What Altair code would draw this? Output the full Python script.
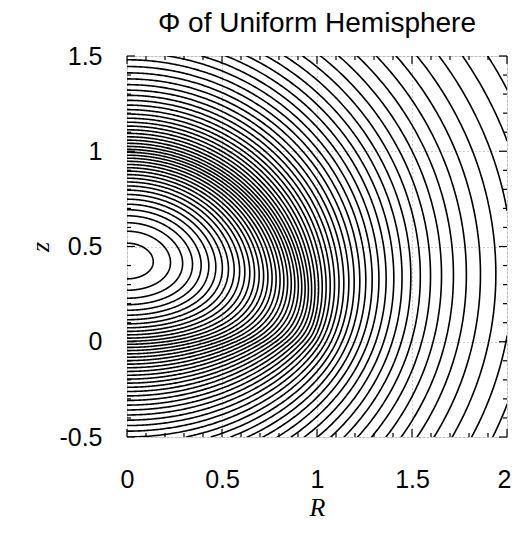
import numpy as np
import pandas as pd
import altair as alt

# ---------------- chart values ----------------
TITLE = "Φ of Uniform Hemisphere"
X_TITLE = "R"
Y_TITLE = "z"
X_DOMAIN = [0, 2]
Y_DOMAIN = [-0.5, 1.5]
X_LABELS = [0, 0.5, 1, 1.5, 2]
Y_LABELS = [-0.5, 0, 0.5, 1, 1.5]
X_MINOR = [0.1, 0.2, 0.3, 0.4, 0.6, 0.7, 0.8, 0.9, 1.1, 1.2, 1.3, 1.4,
           1.6, 1.7, 1.8, 1.9]
Y_MINOR = [-0.4, -0.3, -0.2, -0.1, 0.1, 0.2, 0.3, 0.4, 0.6, 0.7, 0.8, 0.9,
           1.1, 1.2, 1.3, 1.4]
# hemisphere of unit radius, flat face on z = 0, dome up to z = 1
HEMISPHERE_RADIUS = 1.0
# contour levels of -Phi / (G rho a^2)
LEVELS = [3.75, 3.70, 3.65, 3.60, 3.55, 3.50, 3.45, 3.40, 3.35, 3.30,
          3.25, 3.20, 3.15, 3.10, 3.05, 3.00, 2.95, 2.90, 2.85, 2.80,
          2.75, 2.70, 2.65, 2.60, 2.55, 2.50, 2.45, 2.40, 2.35, 2.30,
          2.25, 2.20, 2.15, 2.10, 2.05, 2.00, 1.95, 1.90, 1.85, 1.80,
          1.75, 1.70, 1.65, 1.60, 1.55, 1.50, 1.45, 1.40, 1.35, 1.30,
          1.25, 1.20, 1.15, 1.10, 1.05, 1.00, 0.95, 0.90]


# ---------------- potential of a uniform hemisphere ----------------
def hemisphere_potential(R, Z, a=HEMISPHERE_RADIUS, lmax=140):
    """-Phi/(G rho a^2) via Legendre expansion (interior + exterior)."""
    R = np.asarray(R, float) / a
    Z = np.asarray(Z, float) / a
    r = np.hypot(R, Z)
    mu = np.where(r > 0, Z / np.where(r > 0, r, 1.0), 1.0)
    inside = r < 1.0
    rin = np.minimum(r, 1.0)
    rout = np.maximum(r, 1.0)
    p0 = np.zeros(lmax + 3)
    p0[0] = 1.0
    for n in range(1, lmax + 2):
        p0[n + 1] = -n / (n + 1) * p0[n - 1]
    f = np.where(inside, 0.5 - rin ** 2 / 6.0, 1.0 / (3.0 * rout))
    Pprev = np.ones_like(mu)
    Pcur = mu.copy()
    rin2 = rin ** 2
    rin_l = rin.copy()
    rout_l1 = rout ** 2
    for l in range(1, lmax + 1):
        if l % 2 == 1:
            A = (p0[l - 1] - p0[l + 1]) / (2 * l + 1)
            t_in = rin2 / (l + 3) + (rin2 - rin_l) / (l - 2)
            t_out = 1.0 / ((l + 3) * rout_l1)
            f = f + A * Pcur * np.where(inside, t_in, t_out)
        Pnext = ((2 * l + 1) * mu * Pcur - l * Pprev) / (l + 1)
        Pprev, Pcur = Pcur, Pnext
        rin_l = rin_l * rin
        rout_l1 = rout_l1 * rout
    return 2.0 * np.pi * f


zaxis = np.linspace(0.2, 0.7, 501)
zc = zaxis[np.argmax(hemisphere_potential(np.zeros_like(zaxis), zaxis))]

phi = np.linspace(-np.pi / 2, np.pi / 2, 361)
rad = np.linspace(0.0, 2.8, 1401)
PH, RA = np.meshgrid(phi, rad, indexing="ij")
F = hemisphere_potential(RA * np.cos(PH), zc + RA * np.sin(PH))

lev = np.array(LEVELS)
radii = np.empty((len(phi), len(lev)))
for i in range(len(phi)):
    prof = np.maximum.accumulate(F[i, ::-1])
    radii[i] = np.interp(lev, prof, rad[::-1])

rows = []
for k in range(len(lev)):
    Rk = radii[:, k] * np.cos(phi)
    Zk = zc + radii[:, k] * np.sin(phi)
    ins = (Rk <= 2.0) & (Zk >= -0.5) & (Zk <= 1.5)
    keep = ins.copy()
    keep[1:] |= ins[:-1]
    keep[:-1] |= ins[1:]
    run = 0
    prev = False
    for i in range(len(phi)):
        if keep[i]:
            if not prev:
                run += 1
            rows.append((k * 100 + run, i, round(float(Rk[i]), 4),
                         round(float(Zk[i]), 4)))
        prev = keep[i]
df = pd.DataFrame(rows, columns=["seg", "ord", "R", "z"])

# ---------------- chart ----------------
W, H = 380, 381
SANS = "Liberation Sans"
SERIF = "Liberation Serif"
xs = alt.Scale(domain=X_DOMAIN, nice=False, zero=False)
ys = alt.Scale(domain=Y_DOMAIN, nice=False, zero=False)

contours = alt.Chart(df).mark_line(
    clip=True, color="black", strokeWidth=1.6, interpolate="linear"
).encode(
    x=alt.X("R:Q", scale=xs, axis=alt.Axis(
        values=X_LABELS, labelExpr="'' + datum.value", grid=True,
        gridColor="#9a9a9a", gridDash=[1, 3], gridWidth=1,
        ticks=False, tickSize=0, domain=False, labelPadding=30,
        labelOffset={"condition": {"test": "datum.value == 2", "value": -3},
                     "value": 0},
        labelFont=SANS, labelFontSize=25, labelColor="black",
        labelFlush=False, labelOverlap=False,
        title=X_TITLE, titleFont=SERIF, titleFontStyle="italic",
        titleFontWeight="normal", titleFontSize=26, titleColor="black",
        titleX=W / 2, titleY=78, titleBaseline="alphabetic")),
    y=alt.Y("z:Q", scale=ys, axis=alt.Axis(
        values=Y_LABELS, labelExpr="'' + datum.value", grid=True,
        gridColor="#9a9a9a", gridDash=[1, 3], gridWidth=1,
        ticks=False, tickSize=0, domain=False, labelPadding=25,
        labelFont=SANS, labelFontSize=25, labelColor="black",
        labelFlush=False, labelOverlap=False,
        title=Y_TITLE, titleFont=SERIF, titleFontStyle="italic",
        titleFontWeight="normal", titleFontSize=26, titleColor="black",
        titleX=-87, titleY=H / 2, titleAngle=270, titleBaseline="middle")),
    detail="seg:N",
    order="ord:Q",
)

MAJ, MIN = 8, 4


def xticks(vals, length):
    d = pd.DataFrame({"R": vals})
    base = alt.Chart(d).mark_rule(color="black", strokeWidth=1.2)
    b = base.encode(x=alt.X("R:Q", scale=xs),
                    y=alt.value(H), y2=alt.value(H - length))
    t = base.encode(x=alt.X("R:Q", scale=xs),
                    y=alt.value(0), y2=alt.value(length))
    return [b, t]


def yticks(vals, length):
    d = pd.DataFrame({"z": vals})
    base = alt.Chart(d).mark_rule(color="black", strokeWidth=1.2)
    l = base.encode(y=alt.Y("z:Q", scale=ys),
                    x=alt.value(0), x2=alt.value(length))
    r = base.encode(y=alt.Y("z:Q", scale=ys),
                    x=alt.value(W), x2=alt.value(W - length))
    return [l, r]


layers = [contours] + xticks(X_LABELS, MAJ) + xticks(X_MINOR, MIN) \
    + yticks(Y_LABELS, MAJ) + yticks(Y_MINOR, MIN)

chart = alt.layer(*layers).properties(
    width=W, height=H,
    title=alt.Title(TITLE, font=SANS, fontSize=28, fontWeight="normal",
                    color="black", anchor="middle", offset=6),
    autosize=alt.AutoSizeParams(type="none"),
    padding={"left": 119, "top": 48, "right": 5, "bottom": 86},
).configure_view(
    stroke="black", strokeWidth=1.6
).configure(background="white")

chart.save("out.html", embed_options={"renderer": "svg", "actions": False})
